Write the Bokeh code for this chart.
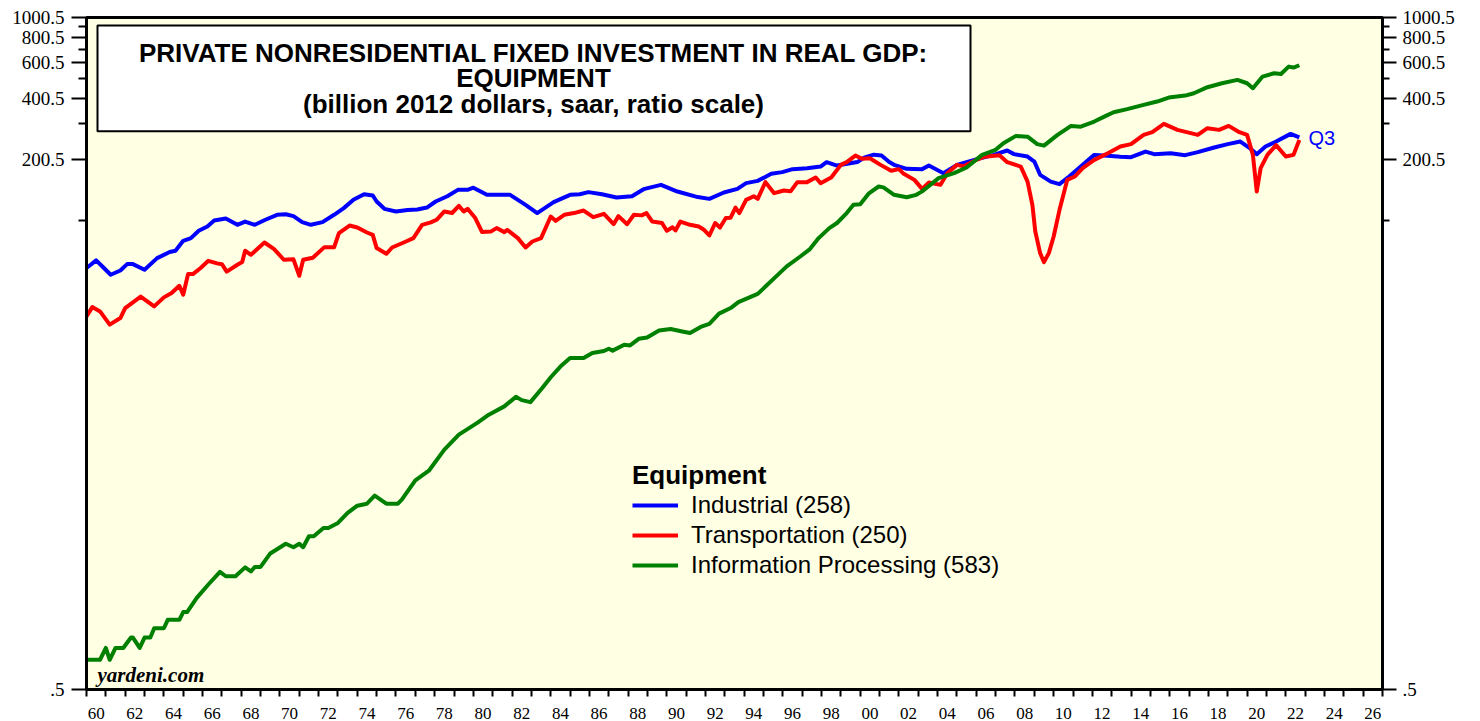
import math
from bokeh.plotting import figure
from bokeh.models import (Range1d, LogAxis, FixedTicker, CustomJSTickFormatter,
                          BoxAnnotation, Label, Legend, LegendItem)
from bokeh.embed import file_html
from bokeh.resources import INLINE

# ---------------- data ----------------
industrial_dates = [1960.0, 1960.5, 1960.9, 1961.25, 1961.75, 1962.1, 1962.4, 1963.0, 1963.65, 1964.3,
                    1964.6, 1965.0, 1965.4, 1965.8, 1966.25, 1966.6, 1967.2, 1967.8, 1968.2, 1968.7,
                    1969.25, 1969.85, 1970.3, 1970.7, 1971.15, 1971.6, 1972.2, 1972.8, 1973.3, 1973.8,
                    1974.35, 1974.8, 1975.0, 1975.4, 1976.0, 1976.6, 1977.1, 1977.6, 1978.05, 1978.65,
                    1979.2, 1979.7, 1980.0, 1980.3, 1980.7, 1981.9, 1982.7, 1983.3, 1984.15, 1985.0,
                    1985.5, 1985.95, 1986.65, 1987.4, 1988.2, 1988.8, 1989.7, 1990.55, 1991.6, 1992.2,
                    1992.95, 1993.65, 1994.1, 1994.7, 1995.4, 1995.97, 1996.5, 1997.25, 1997.95, 1998.26,
                    1998.8, 1999.85, 2000.2, 2000.7, 2001.1, 2001.5, 2001.75, 2002.4, 2003.2, 2003.55,
                    2004.3, 2005.0, 2005.9, 2006.9, 2007.6, 2007.95, 2008.65, 2009.0, 2009.3, 2009.85,
                    2010.3, 2010.8, 2011.4, 2012.1, 2012.8, 2013.45, 2014.0, 2014.75, 2015.2, 2016.05,
                    2016.8, 2017.45, 2018.3, 2019.0, 2019.65, 2020.1, 2020.5, 2020.95, 2021.5, 2022.25,
                    2022.7]
industrial_vals = [58.8, 64.1, 58.8, 54.5, 57.2, 61.5, 61.5, 57.7, 65.8, 70.5,
                   71.5, 80.0, 82.5, 89.6, 94.1, 100.7, 103.0, 95.9, 99.5, 95.9,
                   101.5, 107.4, 108.0, 105.8, 98.9, 95.9, 98.9, 107.4, 115.8, 127.2,
                   135.6, 133.6, 124.8, 114.9, 111.5, 113.3, 114.0, 116.6, 124.8, 132.5,
                   142.4, 142.4, 146.0, 141.0, 134.6, 134.6, 120.2, 109.5, 124.0, 134.6,
                   135.6, 138.8, 135.6, 130.6, 132.5, 143.5, 150.7, 139.7, 131.2, 128.6,
                   138.2, 144.0, 153.6, 157.6, 170.7, 174.0, 179.9, 182.0, 185.3, 194.8,
                   187.4, 195.0, 205.0, 212.0, 210.0, 195.0, 189.0, 180.6, 180.0, 187.4,
                   172.0, 188.9, 200.0, 211.5, 222.2, 213.3, 207.5, 196.2, 168.8, 156.4,
                   151.9, 165.6, 185.3, 211.5, 209.6, 207.0, 206.0, 219.6, 213.3, 215.4,
                   210.8, 218.1, 229.8, 238.8, 245.9, 229.8, 213.3, 232.4, 245.9, 268.2,
                   258.0]

transport_dates = [1960.0, 1960.3, 1960.7, 1961.2, 1961.75, 1962.0, 1962.8, 1963.5, 1964.0, 1964.4,
                   1964.8, 1965.0, 1965.25, 1965.5, 1965.9, 1966.3, 1966.75, 1967.0, 1967.25, 1967.8,
                   1968.05, 1968.2, 1968.5, 1969.2, 1969.7, 1970.2, 1970.7, 1971.0, 1971.2, 1971.7,
                   1972.3, 1972.8, 1973.05, 1973.6, 1974.0, 1974.5, 1974.8, 1975.0, 1975.5, 1975.8,
                   1976.4, 1976.9, 1977.35, 1977.8, 1978.1, 1978.5, 1978.9, 1979.25, 1979.5, 1979.7,
                   1980.1, 1980.45, 1980.9, 1981.2, 1981.6, 1981.75, 1982.3, 1982.7, 1983.05, 1983.5,
                   1984.0, 1984.25, 1984.7, 1985.2, 1985.7, 1986.2, 1986.75, 1987.25, 1987.5, 1987.95,
                   1988.3, 1988.7, 1988.95, 1989.25, 1989.75, 1990.0, 1990.3, 1990.45, 1990.7, 1991.2,
                   1991.65, 1991.9, 1992.2, 1992.5, 1992.75, 1993.05, 1993.3, 1993.55, 1993.75, 1994.1,
                   1994.5, 1994.7, 1995.1, 1995.55, 1996.05, 1996.4, 1996.75, 1997.25, 1997.7, 1997.95,
                   1998.5, 1999.0, 1999.3, 1999.75, 2000.1, 2000.5, 2001.05, 2001.6, 2002.0, 2002.25,
                   2002.8, 2003.2, 2003.55, 2004.15, 2004.5, 2005.0, 2005.35, 2005.9, 2006.4, 2007.2,
                   2007.6, 2008.3, 2008.65, 2008.9, 2009.05, 2009.3, 2009.5, 2009.75, 2010.0, 2010.3,
                   2010.7, 2011.1, 2011.5, 2012.1, 2012.8, 2013.45, 2014.0, 2014.65, 2015.1, 2015.7,
                   2016.4, 2017.45, 2017.95, 2018.55, 2019.05, 2019.6, 2020.0, 2020.3, 2020.5, 2020.7,
                   2021.05, 2021.5, 2022.0, 2022.4, 2022.7]
transport_vals = [34.0, 37.8, 36.0, 31.0, 33.4, 37.4, 42.6, 38.1, 42.2, 44.3,
                  48.1, 43.5, 54.9, 54.9, 58.8, 63.8, 62.0, 61.4, 56.5, 61.0,
                  62.9, 71.5, 68.3, 78.5, 72.9, 64.6, 64.9, 53.9, 64.6, 66.1,
                  74.5, 74.3, 87.3, 95.1, 93.0, 87.9, 85.6, 73.7, 69.1, 74.2,
                  78.5, 82.5, 95.9, 98.6, 101.5, 111.5, 109.6, 118.8, 111.5, 114.9,
                  103.5, 88.3, 88.8, 92.4, 88.3, 90.5, 82.5, 74.2, 79.4, 82.5,
                  105.3, 100.3, 107.4, 109.5, 112.7, 104.6, 108.6, 96.6, 105.8, 96.6,
                  107.4, 106.7, 109.5, 99.5, 97.9, 89.6, 93.2, 90.0, 99.5, 95.9,
                  94.0, 91.0, 85.0, 97.9, 93.0, 103.5, 104.0, 116.6, 109.5, 127.2,
                  132.5, 128.7, 155.4, 137.2, 141.3, 140.0, 155.4, 155.4, 163.7, 153.6,
                  163.7, 188.9, 194.8, 209.9, 202.2, 203.7, 188.9, 176.6, 180.0, 170.7,
                  159.4, 144.0, 154.7, 150.7, 172.0, 188.9, 186.0, 198.0, 207.0, 210.8,
                  194.8, 185.3, 156.4, 120.2, 88.9, 69.6, 62.9, 69.6, 84.0, 113.3,
                  159.4, 165.6, 182.0, 200.0, 215.4, 232.4, 238.8, 265.2, 273.5, 300.3,
                  280.6, 265.2, 286.0, 280.6, 293.6, 273.5, 265.2, 211.5, 139.7, 182.0,
                  211.5, 236.2, 207.5, 211.5, 250.0]

info_dates = [1960.0, 1960.7, 1961.0, 1961.2, 1961.5, 1961.9, 1962.3, 1962.4, 1962.75, 1963.0,
              1963.3, 1963.5, 1964.0, 1964.2, 1964.8, 1965.0, 1965.2, 1965.7, 1966.3, 1966.9,
              1967.2, 1967.7, 1968.2, 1968.5, 1968.7, 1969.0, 1969.5, 1970.3, 1970.7, 1971.0,
              1971.2, 1971.5, 1971.75, 1972.25, 1972.5, 1973.0, 1973.5, 1974.0, 1974.5, 1974.9,
              1975.5, 1976.1, 1976.3, 1977.0, 1977.7, 1978.5, 1979.25, 1980.2, 1980.8, 1981.6,
              1982.2, 1982.5, 1982.95, 1983.55, 1984.0, 1984.5, 1985.0, 1985.7, 1986.15, 1986.75,
              1987.0, 1987.2, 1987.8, 1988.1, 1988.55, 1988.98, 1989.6, 1990.2, 1990.8, 1991.2,
              1991.75, 1992.2, 1992.7, 1993.3, 1993.7, 1994.7, 1995.1, 1995.6, 1996.2, 1996.9,
              1997.4, 1997.85, 1998.4, 1998.8, 1999.3, 1999.65, 2000.0, 2000.45, 2000.95, 2001.2,
              2001.75, 2002.4, 2002.9, 2003.2, 2003.6, 2004.05, 2004.85, 2005.5, 2006.3, 2007.0,
              2007.4, 2008.05, 2008.65, 2009.15, 2009.5, 2010.2, 2010.9, 2011.4, 2012.1, 2012.7,
              2013.1, 2013.8, 2014.65, 2015.35, 2015.95, 2016.8, 2017.25, 2017.95, 2018.7, 2019.5,
              2020.0, 2020.3, 2020.8, 2021.4, 2021.75, 2022.15, 2022.4, 2022.7]
info_vals = [0.70, 0.70, 0.80, 0.70, 0.80, 0.80, 0.90, 0.90, 0.80, 0.90,
             0.90, 1.0, 1.0, 1.1, 1.1, 1.2, 1.2, 1.41, 1.64, 1.89,
             1.80, 1.80, 1.99, 1.90, 2.0, 2.0, 2.33, 2.60, 2.50, 2.60,
             2.50, 2.83, 2.83, 3.11, 3.11, 3.29, 3.69, 4.0, 4.09, 4.48,
             4.09, 4.09, 4.28, 5.33, 5.94, 7.54, 8.93, 10.2, 11.2, 12.3,
             13.7, 13.2, 12.9, 15.1, 17.1, 19.3, 21.25, 21.25, 22.5, 23.0,
             23.6, 23.1, 24.7, 24.5, 26.4, 26.8, 29.0, 29.5, 28.7, 28.2,
             30.2, 31.3, 35.1, 37.4, 40.0, 43.9, 47.7, 52.9, 59.9, 67.0,
             72.9, 82.5, 92.4, 97.9, 109.5, 120.2, 121.0, 137.0, 147.9, 146.5,
             134.6, 131.0, 134.6, 140.0, 150.0, 162.6, 172.0, 183.3, 211.5, 223.9,
             241.5, 262.2, 260.0, 238.8, 234.8, 265.2, 293.6, 291.0, 308.3, 328.9,
             342.7, 354.8, 372.4, 386.6, 404.5, 413.7, 424.9, 454.8, 475.6, 494.0,
             475.6, 449.7, 512.8, 532.6, 528.0, 574.0, 568.0, 583.0]

series_labels = ["Industrial (258)", "Transportation (250)", "Information Processing (583)"]
y_major_ticks = [0.5, 200.5, 400.5, 600.5, 800.5, 1000.5]
y_minor_ticks = [100.5, 300.5, 500.5, 700.5, 900.5]
x_label_ticks = [y + 0.5 for y in range(1960, 2027, 2)]
x_year_ticks = list(range(1960, 2028))

X0, X1 = 1960, 2027
Y0, Y1 = 0.5, 1000.5

# placement helpers (reference-pixel -> data coordinates, for annotations only)
def fx(px):
    return X0 + (px - 86) / (1382 - 86) * (X1 - X0)

def fy(py):
    return 10 ** (math.log10(Y0) + (690 - py) / (690 - 17) * (math.log10(Y1) - math.log10(Y0)))

p = figure(width=1480, height=721, x_range=Range1d(X0, X1), y_range=Range1d(Y0, Y1),
           y_axis_type="log", output_backend="svg", toolbar_location=None,
           min_border_left=86, min_border_right=98, min_border_top=17, min_border_bottom=31,
           background_fill_color="#FFFFE4", border_fill_color="white",
           outline_line_color="black", outline_line_width=3)
p.xgrid.visible = False
p.ygrid.visible = False

# x axis: year ticks, labels centred between ticks
xa = p.xaxis[0]
xa.ticker = FixedTicker(ticks=x_label_ticks, minor_ticks=x_year_ticks)
xa.formatter = CustomJSTickFormatter(code="const y = Math.floor(tick) % 100; return (y < 10 ? '0' : '') + y;")
xa.major_tick_out = 0
xa.major_tick_in = 0
xa.minor_tick_out = 7
xa.minor_tick_in = 0
xa.minor_tick_line_width = 2
xa.minor_tick_line_color = "black"
xa.axis_line_width = 3
xa.major_label_standoff = 11
xa.major_label_text_font = "Liberation Serif"
xa.major_label_text_font_size = "17px"
xa.major_label_text_color = "black"

yfmt_code = "if (Math.abs(tick - 0.5) < 1e-9) { return '.5'; } return tick.toFixed(1);"

def style_y(ax, major_len, minor_len, standoff):
    ax.ticker = FixedTicker(ticks=y_major_ticks, minor_ticks=y_minor_ticks)
    ax.formatter = CustomJSTickFormatter(code=yfmt_code)
    ax.major_tick_out = major_len
    ax.major_tick_in = 0
    ax.minor_tick_out = minor_len
    ax.minor_tick_in = 0
    ax.major_tick_line_width = 2
    ax.minor_tick_line_width = 2
    ax.major_tick_line_color = "black"
    ax.minor_tick_line_color = "black"
    ax.axis_line_width = 3
    ax.major_label_standoff = standoff
    ax.major_label_text_font = "Liberation Serif"
    ax.major_label_text_font_size = "19px"
    ax.major_label_text_color = "black"

style_y(p.yaxis[0], 15, 8, 7)
ry = LogAxis()
style_y(ry, 14, 7, 6)
p.add_layout(ry, "right")

# series
r_ind = p.line(industrial_dates, industrial_vals, line_color="#0000FF", line_width=4, line_join="round")
r_tr = p.line(transport_dates, transport_vals, line_color="#FF0000", line_width=4, line_join="round")
r_info = p.line(info_dates, info_vals, line_color="#008000", line_width=4, line_join="round")

# title box
p.add_layout(BoxAnnotation(left=fx(97), right=fx(970), bottom=fy(131), top=fy(25),
                           fill_color="white", fill_alpha=1.0,
                           line_color="black", line_alpha=1.0, line_width=2))
title_lines = ["PRIVATE NONRESIDENTIAL FIXED INVESTMENT IN REAL GDP:",
               "EQUIPMENT",
               "(billion 2012 dollars, saar, ratio scale)"]
for txt, py in zip(title_lines, [53, 78, 104]):
    p.add_layout(Label(x=fx(533), y=fy(py), text=txt, text_align="center", text_baseline="middle",
                       text_font="Liberation Sans", text_font_style="bold",
                       text_font_size="26px", text_color="black"))

# legend
legend = Legend(items=[LegendItem(label=series_labels[0], renderers=[r_ind]),
                       LegendItem(label=series_labels[1], renderers=[r_tr]),
                       LegendItem(label=series_labels[2], renderers=[r_info])],
                location=(546, 110), title="Equipment",
                title_text_font="Liberation Sans", title_text_font_style="bold",
                title_text_font_size="26px", title_text_color="black", title_standoff=0,
                label_text_font="Liberation Sans", label_text_font_size="24px",
                label_text_color="black",
                glyph_width=46, glyph_height=28, label_height=28, spacing=2,
                label_standoff=13, padding=0, margin=0,
                border_line_color=None, background_fill_alpha=0.0)
p.add_layout(legend)

p.add_layout(Label(x=fx(1308), y=fy(138), text="Q3", text_align="left", text_baseline="middle",
                   text_font="Liberation Sans", text_font_size="20px", text_color="#0000FF"))
p.add_layout(Label(x=fx(97), y=fy(675), text="yardeni.com", text_align="left", text_baseline="middle",
                   text_font="Liberation Serif", text_font_style="bold italic",
                   text_font_size="21px", text_color="black"))

open("out.html", "w").write(file_html(p, INLINE))
